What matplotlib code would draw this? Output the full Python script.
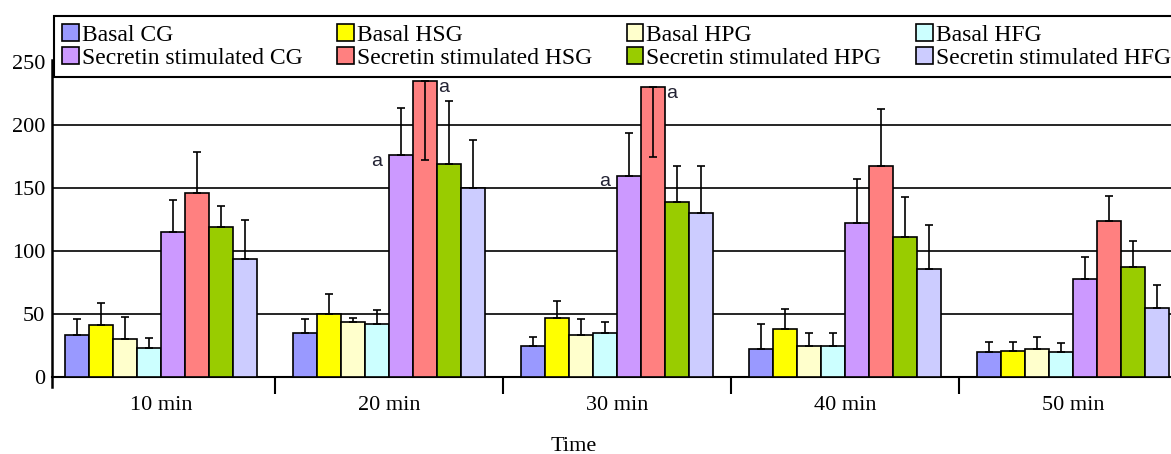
import matplotlib.pyplot as plt
from matplotlib.patches import Patch
import numpy as np

groups = ['10 min', '20 min', '30 min', '40 min', '50 min']
series = ['Basal CG', 'Basal HSG', 'Basal HPG', 'Basal HFG',
          'Secretin stimulated CG', 'Secretin stimulated HSG',
          'Secretin stimulated HPG', 'Secretin stimulated HFG']
colors = ['#9999FF', '#FFFF00', '#FFFFCC', '#CCFFFF',
          '#CC99FF', '#FF8080', '#99CC00', '#CCCCFF']

basal_cg = [33, 35, 25, 22, 20]
basal_hsg = [41, 50, 47, 38, 21]
basal_hpg = [30, 44, 33, 25, 22]
basal_hfg = [23, 42, 35, 25, 20]
sec_cg = [115, 176, 160, 122, 78]
sec_hsg = [146, 235, 230, 168, 124]
sec_hpg = [119, 169, 139, 111, 87]
sec_hfg = [94, 150, 130, 86, 55]

# error sizes (upper); HSG at 20 and 30 min are drawn downward
err_basal_cg = [13, 11, 7, 20, 8]
err_basal_hsg = [18, 16, 13, 16, 7]
err_basal_hpg = [18, 3, 13, 10, 10]
err_basal_hfg = [8, 11, 9, 10, 7]
err_sec_cg = [26, 38, 34, 35, 17]
err_sec_hsg = [33, 63, 55, 45, 20]
err_sec_hpg = [17, 50, 29, 32, 21]
err_sec_hfg = [31, 38, 38, 35, 18]
down_hsg = [False, True, True, False, False]

values = [basal_cg, basal_hsg, basal_hpg, basal_hfg, sec_cg, sec_hsg, sec_hpg, sec_hfg]
errors = [err_basal_cg, err_basal_hsg, err_basal_hpg, err_basal_hfg,
          err_sec_cg, err_sec_hsg, err_sec_hpg, err_sec_hfg]

W, H = 1171, 454
fig = plt.figure(figsize=(W / 100, H / 100), dpi=100)
ax = fig.add_axes([52 / W, 77 / H, (W - 52) / W, 360 / H])

x = np.arange(len(groups))
w = 0.105
for i, (vals, errs) in enumerate(zip(values, errors)):
    pos = x + (i - 3.5) * w
    ax.bar(pos, vals, w, color=colors[i], edgecolor='black', linewidth=1.2, zorder=3)
    lower = np.zeros(len(vals))
    upper = np.array(errs, dtype=float)
    if i == 5:
        for j, d in enumerate(down_hsg):
            if d:
                lower[j] = errs[j]
                upper[j] = 0
    ax.errorbar(pos, vals, yerr=[lower, upper], fmt='none', ecolor='black',
                elinewidth=1.2, capsize=3, capthick=1.2, zorder=4)
    if i == 4:
        for j in (1, 2):
            ax.text(pos[j] - w / 2 - 0.03, vals[j] - 5, 'a', ha='right', va='center',
                    fontsize=14, family='Liberation Sans', color='#222233')
    if i == 5:
        for j in (1, 2):
            ax.text(pos[j] + w / 2 + 0.005, vals[j] - 5, 'a', ha='left', va='center',
                    fontsize=14, family='Liberation Sans', color='#222233')

ax.set_xlim(-0.478, 4.43)
ax.set_ylim(0, 286)
ax.set_yticks([0, 50, 100, 150, 200, 250])
ax.yaxis.grid(True, color='black', linewidth=1.2)
ax.set_axisbelow(True)

ax.set_xticks(x)
ax.set_xticklabels(groups, family='Liberation Serif', fontsize=16)
ax.tick_params(axis='x', which='major', length=0, pad=14)
ax.set_xticks(np.arange(0.5, 4.5, 1), minor=True)
ax.tick_params(axis='x', which='minor', length=12, width=1.5, direction='out')
ax.tick_params(axis='y', length=0, pad=5, labelsize=16)
for lab in ax.get_yticklabels():
    lab.set_family('Liberation Serif')

ax.spines['top'].set_visible(False)
ax.spines['right'].set_visible(False)
ax.spines['left'].set_linewidth(1.8)
ax.spines['left'].set_bounds(-8, 252)
ax.spines['bottom'].set_linewidth(1.5)

ax.set_xlabel('Time', family='Liberation Serif', fontsize=16)
ax.xaxis.set_label_coords((574 - 52) / (W - 52), -(437 - 377) / 360)

handles = [Patch(facecolor=c, edgecolor='black', linewidth=1.2) for c in colors]
order = [0, 4, 1, 5, 2, 6, 3, 7]
leg = fig.legend([handles[k] for k in order], [series[k] for k in order], ncol=4,
                 loc='upper left', bbox_to_anchor=(54 / W, 1 - 16 / H),
                 bbox_transform=fig.transFigure,
                 borderaxespad=0, fancybox=False, framealpha=1,
                 edgecolor='black', prop={'family': 'Liberation Serif', 'size': 17},
                 handlelength=0.7, handleheight=0.7, handletextpad=0.12,
                 labelspacing=0.05, borderpad=0.35, columnspacing=1.48)
leg.get_frame().set_linewidth(1.5)
leg.set_zorder(10)

fig.savefig('out.png', dpi=100)
